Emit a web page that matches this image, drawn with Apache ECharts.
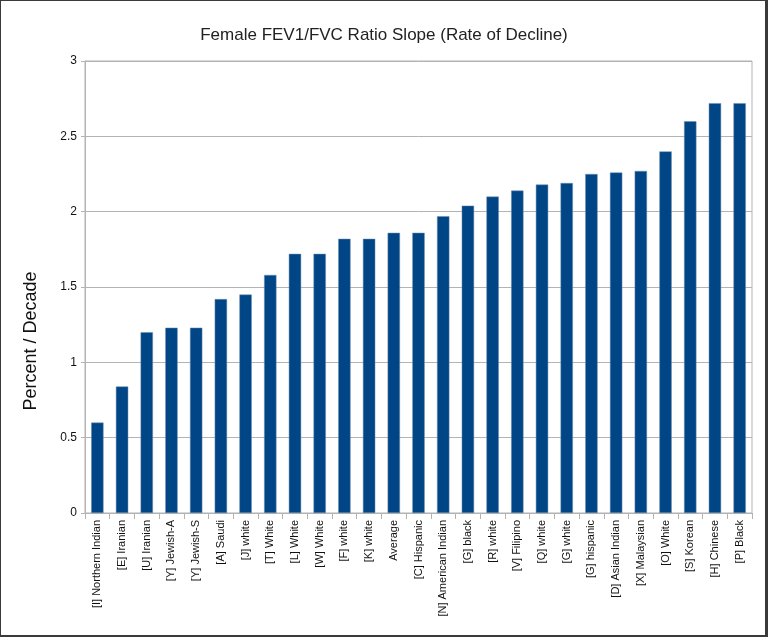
<!DOCTYPE html>
<html><head><meta charset="utf-8">
<script src="https://cdn.jsdelivr.net/npm/echarts@6/dist/echarts.min.js"></script>
<style>
html,body{margin:0;padding:0;background:#fff;}
#wrap{width:768px;height:637px;box-sizing:border-box;border:1px solid #3a3a3a;border-right-width:3px;border-bottom-width:2px;position:relative;}
#c{position:absolute;left:-1px;top:-1px;width:768px;height:637px;}
</style></head>
<body><div id="wrap"><div id="c"></div></div>
<script>
const categories = ["[I] Northern Indian","[E] Iranian","[U] Iranian","[Y] Jewish-A","[Y] Jewish-S","[A] Saudi","[J] white","[T] White","[L] White","[W] White","[F] white","[K] white","Average","[C] Hispanic","[N] American Indian","[G] black","[R] white","[V] Filipino","[Q] white","[G] white","[G] hispanic","[D] Asian Indian","[X] Malaysian","[O] White","[S] Korean","[H] Chinese","[P] Black"];
const values = [0.60,0.84,1.20,1.23,1.23,1.42,1.45,1.58,1.72,1.72,1.82,1.82,1.86,1.86,1.97,2.04,2.10,2.14,2.18,2.19,2.25,2.26,2.27,2.40,2.60,2.72,2.72];
const yTicks = {min:0,max:3,interval:0.5};
const titleText = "Female FEV1/FVC Ratio Slope (Rate of Decline)";
const yName = "Percent / Decade";

const chart = echarts.init(document.getElementById('c'));
chart.setOption({
  animation:false,
  textStyle:{fontFamily:'Liberation Sans'},
  title:{text:titleText,left:'center',top:22,textStyle:{fontFamily:'Liberation Sans',fontSize:17,fontWeight:'normal',color:'#222'}},
  graphic:[{type:'text',x:31,y:341,rotation:Math.PI/2,style:{text:yName,font:'18px "Liberation Sans"',fill:'#111',align:'center',verticalAlign:'middle'}}],
  grid:{left:85,right:16,top:61,bottom:124,show:true,borderColor:'#b3b3b3',borderWidth:1},
  xAxis:{type:'category',data:categories,
    axisLine:{lineStyle:{color:'#b3b3b3'}},
    axisTick:{show:true,length:6,alignWithLabel:false,lineStyle:{color:'#b3b3b3'}},
    axisLabel:{rotate:90,interval:0,fontSize:11,color:'#111',margin:7}},
  yAxis:{type:'value',min:yTicks.min,max:yTicks.max,interval:yTicks.interval,
    axisLine:{show:true,lineStyle:{color:'#b3b3b3'}},
    axisTick:{show:true,length:4,inside:false,lineStyle:{color:'#b3b3b3'}},
    splitLine:{lineStyle:{color:'#b3b3b3'}},
    axisLabel:{fontSize:12,color:'#111',margin:8}},
  series:[{type:'bar',data:values,barWidth:'50%',itemStyle:{color:'#004586',borderColor:'#6f8fb3',borderWidth:0.5}}]
});
</script></body></html>
